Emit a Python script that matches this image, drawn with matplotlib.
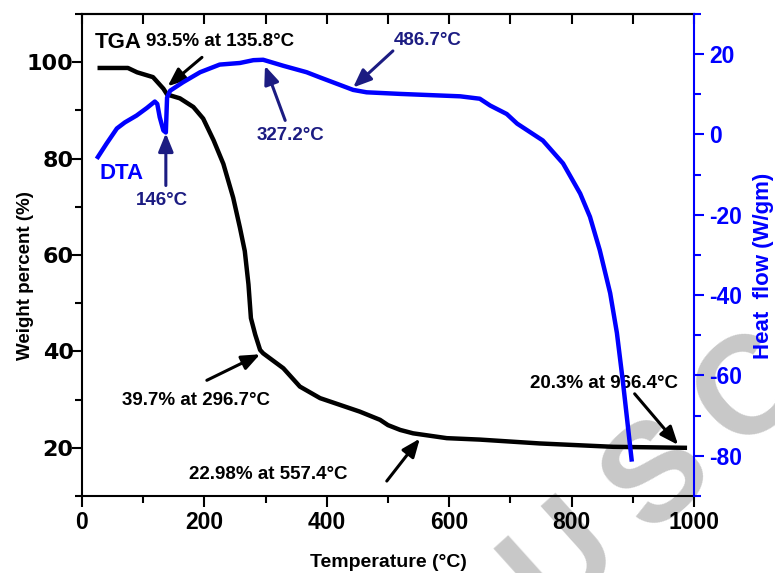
import matplotlib
matplotlib.use("Agg")
import matplotlib.pyplot as plt
from matplotlib.ticker import MultipleLocator

plt.rcParams['font.family'] = ['Liberation Sans', 'DejaVu Sans']
plt.rcParams['font.weight'] = 'bold'
plt.rcParams['axes.unicode_minus'] = False

# TGA trace (weight %, left axis)
tga_temp = [29, 75, 90, 116, 133, 139, 160, 182, 198, 215, 231, 247, 258, 266,
            272, 276, 283, 291, 296, 329, 356, 389, 454, 487, 500, 520, 541,
            596, 650, 748, 868, 985]
tga_weight = [98.8, 98.8, 97.9, 96.9, 94.5, 93.3, 92.5, 90.7, 88.3, 83.8, 78.9,
              71.9, 65.7, 60.8, 53.9, 46.9, 43.5, 40.3, 39.6, 36.5, 32.7, 30.3,
              27.5, 25.8, 24.7, 23.7, 23.0, 22.0, 21.7, 20.9, 20.2, 20.0]

# DTA trace (heat flow, right axis)
dta_temp = [26, 40, 57, 70, 89, 106, 119, 123, 127, 133, 137, 139, 144, 165, 193,
            225, 258, 280, 296, 329, 367, 389, 443, 465, 520, 618, 650, 667, 694,
            711, 753, 786, 814, 830, 846, 863, 874, 884, 898]
dta_heat = [-5.6, -2.3, 1.5, 3.0, 4.7, 6.6, 8.2, 7.6, 4.3, 1.0, 0.5, 9.2, 10.9,
            13.0, 15.5, 17.4, 17.8, 18.5, 18.6, 17.1, 15.5, 14.2, 11.1, 10.5,
            10.1, 9.5, 8.9, 7.2, 5.1, 2.7, -1.5, -7.2, -14.7, -20.5, -28.8,
            -39.5, -49.4, -61.8, -80.9]

# annotations: (text, text pos, arrow tail, arrow head)
tga_notes = [
    ("93.5% at 135.8°C", (225, 104.2), (196, 101), (140, 95)),
    ("39.7% at 296.7°C", (186, 29.8), (204, 34), (291, 39.4)),
    ("22.98% at 557.4°C", (305, 14.4), (498, 13.1), (552, 21.9)),
    ("20.3% at 966.4°C", (853, 33.3), (903, 31.2), (974, 20.6)),
]
dta_notes = [
    ("146°C", (131, -16.4), (137, -12.7), (137, 0.3)),
    ("327.2°C", (340, -0.3), (332, 3.5), (299, 17.1)),
    ("486.7°C", (565, 23.3), (508, 20.8), (443, 11.7)),
]

navy = '#1c1c82'
blue = '#0000ff'

fig = plt.figure(figsize=(7.75, 5.73), dpi=100)
ax = fig.add_axes([0.1058, 0.1344, 0.7897, 0.8412])
ax2 = ax.twinx()

# watermark
for ch, (px, py) in zip("USC", [(563, 560), (660, 478), (752, 392)]):
    fig.text(px / 775, 1 - py / 573, ch, fontsize=100, color='#c8c8c8',
             rotation=42, ha='center', va='center', zorder=0)
ax.set_zorder(2)
ax2.set_zorder(3)
ax.patch.set_visible(False)
ax2.patch.set_visible(False)

ax.plot(tga_temp, tga_weight, color='black', lw=3.2, solid_joinstyle='round')
ax2.plot(dta_temp, dta_heat, color=blue, lw=3.2, solid_joinstyle='round')

ax.set_xlim(0, 1000)
ax.set_ylim(10, 110)
ax2.set_ylim(-90, 30)

ax.xaxis.set_major_locator(MultipleLocator(200))
ax.xaxis.set_minor_locator(MultipleLocator(100))
ax.yaxis.set_major_locator(MultipleLocator(20))
ax.yaxis.set_minor_locator(MultipleLocator(10))
ax2.yaxis.set_major_locator(MultipleLocator(20))
ax2.yaxis.set_minor_locator(MultipleLocator(10))

for s in ax.spines.values():
    s.set_linewidth(1.5)
ax.spines['right'].set_visible(False)
for name in ['left', 'top', 'bottom']:
    ax2.spines[name].set_visible(False)
ax2.spines['right'].set_color(blue)
ax2.spines['right'].set_linewidth(1.5)

ax.tick_params(axis='x', which='major', length=8, width=1.5, pad=3, labelsize=16.5)
ax.tick_params(axis='x', which='minor', length=5, width=1.5)
ax.tick_params(axis='y', which='major', length=7, width=1.5, pad=-1, labelsize=16)
ax.tick_params(axis='y', which='minor', length=5, width=1.5)
for lab in ax.get_yticklabels():
    lab.set_fontfamily('DejaVu Sans')
ax2.tick_params(axis='y', which='major', length=7, width=1.5, pad=4,
                labelsize=16.5, colors=blue)
ax2.tick_params(axis='y', which='minor', length=5, width=1.5, colors=blue)

top = ax.secondary_xaxis('top')
top.spines['top'].set_linewidth(1.5)
top.xaxis.set_major_locator(MultipleLocator(200))
top.xaxis.set_minor_locator(MultipleLocator(100))
top.tick_params(which='both', direction='in', length=7, width=1.5, labeltop=False)

ax.set_xlabel("Temperature (°C)", fontsize=14, fontweight='bold')
ax.xaxis.set_label_coords(0.5, -0.12)
ax.set_ylabel("Weight percent (%)", fontsize=13.5, fontweight='bold', va='center')
ax.yaxis.set_label_coords(-0.093, 0.458)
ax2.set_ylabel("Heat  flow (W/gm)", fontsize=16, fontweight='bold', color=blue,
               va='center')
ax2.yaxis.set_label_coords(1.113, 0.477)

ax.text(21, 104, "TGA", fontsize=16, fontweight='bold', ha='left', va='center')
ax2.text(65, -9.7, "DTA", fontsize=16, fontweight='bold', color=blue,
         ha='center', va='center')

arrow = dict(arrowstyle='-|>,head_length=1.1,head_width=0.45', lw=2.2,
             mutation_scale=10, shrinkA=0, shrinkB=0)
for txt, tpos, tail, head in tga_notes:
    ax.text(*tpos, txt, fontsize=13.5, fontweight='bold', ha='center', va='center')
    ax.annotate('', xy=head, xytext=tail,
                arrowprops=dict(arrow, color='black'))
for txt, tpos, tail, head in dta_notes:
    ax2.text(*tpos, txt, fontsize=13.5, fontweight='bold', color=navy,
             ha='center', va='center')
    ax2.annotate('', xy=head, xytext=tail,
                 arrowprops=dict(arrow, color=navy))

fig.savefig("out.png", dpi=100)
